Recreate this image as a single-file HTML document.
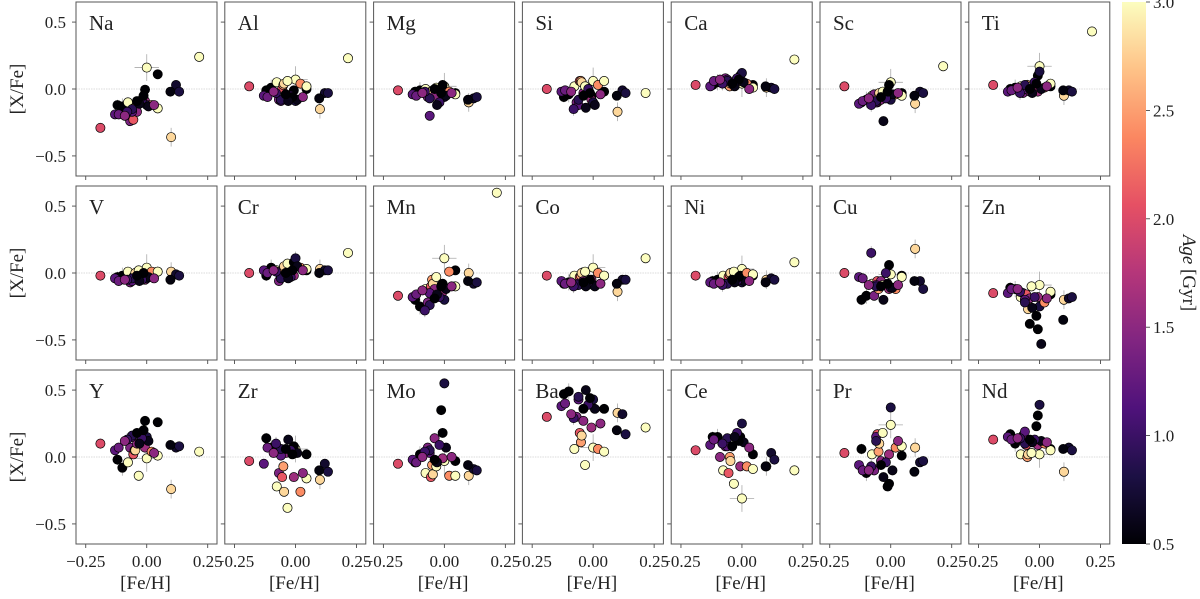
<!DOCTYPE html>
<html><head><meta charset="utf-8"><style>
body{margin:0;background:#fff;}
svg{display:block;font-family:"Liberation Serif",serif;}
</style></head><body>
<svg id="chart" width="1200" height="599" viewBox="0 0 1200 599" xmlns="http://www.w3.org/2000/svg">
<defs><linearGradient id="magma" x1="0" y1="1" x2="0" y2="0">
<stop offset="0" stop-color="#000004"/><stop offset="0.125" stop-color="#1c1044"/><stop offset="0.25" stop-color="#4f127b"/><stop offset="0.375" stop-color="#812581"/><stop offset="0.5" stop-color="#b5367a"/><stop offset="0.625" stop-color="#e55064"/><stop offset="0.75" stop-color="#fb8761"/><stop offset="0.875" stop-color="#fec287"/><stop offset="1" stop-color="#fcfdbf"/></linearGradient></defs>
</svg>
<script>
const elements=["Na","Al","Mg","Si","Ca","Sc","Ti","V","Cr","Mn","Co","Ni","Cu","Zn","Y","Zr","Mo","Ba","Ce","Pr","Nd"];
const feh=[-0.19,0.215,0.0,0.045,0.10,0.12,0.097,0.133,-0.12,-0.10,-0.13,-0.115,-0.077,-0.068,-0.055,-0.05,-0.047,-0.04,-0.06,-0.033,-0.007,-0.007,0.0,0.02,0.045,0.007,-0.02,-0.06,-0.08,-0.013,-0.03,-0.04,0.03,-0.09];
const age=[2.0,3.0,3.0,0.5,2.8,0.7,0.55,0.8,0.5,0.5,1.2,1.3,3.0,1.4,2.1,2.5,2.8,1.5,1.2,3.0,0.5,1.6,0.8,2.4,3.0,0.6,1.0,0.9,1.0,0.5,0.6,0.5,1.5,1.5];
const xerr=[0.012,0.015,0.05,0.012,0.02,0.012,0.012,0.012,0.02,0.015,0.015,0.015,0.015,0.012,0.015,0.02,0.015,0.012,0.015,0.012,0.012,0.012,0.012,0.015,0.015,0.012,0.012,0.012,0.015,0.012,0.012,0.012,0.012,0.015];
const yerr=[0.03,0.02,0.1,0.02,0.07,0.02,0.03,0.02,0.04,0.06,0.03,0.03,0.03,0.03,0.03,0.04,0.03,0.02,0.03,0.02,0.02,0.03,0.02,0.03,0.02,0.02,0.03,0.03,0.05,0.02,0.03,0.02,0.03,0.03];
const vNa=[-0.29,0.24,0.16,0.11,-0.36,0.03,-0.02,-0.02,-0.12,-0.13,-0.19,-0.19,-0.10,-0.24,-0.23,-0.14,-0.15,-0.17,-0.17,-0.10,-0.005,-0.09,-0.12,-0.12,-0.145,-0.13,-0.08,-0.15,-0.17,-0.05,-0.11,-0.09,-0.12,-0.2];
const vAl=[0.02,0.23,0.07,0.0,-0.15,-0.03,-0.07,-0.03,-0.01,0.01,-0.05,-0.06,0.05,-0.08,0.0,0.03,0.04,-0.04,-0.09,0.06,-0.01,-0.07,-0.09,0.04,0.02,-0.08,-0.05,-0.08,-0.03,-0.06,-0.09,-0.04,-0.06,-0.02];
const vMg=[-0.01,null,0.02,-0.03,-0.1,-0.07,-0.08,-0.06,-0.02,-0.01,-0.04,-0.05,0.0,-0.06,-0.02,-0.03,-0.01,-0.05,-0.2,0.01,0.03,-0.04,-0.06,-0.02,-0.04,-0.05,-0.1,-0.07,-0.02,-0.03,-0.12,0.0,-0.03,-0.03];
const vSi=[0.0,-0.03,0.06,-0.02,-0.17,-0.01,-0.05,-0.03,-0.06,-0.04,-0.02,-0.01,0.02,-0.1,0.06,0.06,0.05,-0.03,-0.12,0.02,-0.05,-0.08,-0.1,0.03,0.06,-0.12,0.0,-0.08,-0.15,-0.03,-0.14,-0.05,-0.04,-0.02];
const vCa=[0.03,0.22,0.04,0.03,0.01,0.01,0.02,0.0,0.03,0.05,0.02,0.06,0.05,0.08,0.03,0.02,0.04,0.05,0.07,0.03,0.1,0.06,0.12,0.04,0.01,0.05,0.08,0.06,0.04,0.07,0.02,0.04,0.0,0.07];
const vSc=[0.02,0.17,0.05,-0.03,-0.11,-0.02,-0.05,-0.03,-0.1,-0.08,-0.11,-0.09,-0.05,-0.04,-0.1,-0.06,-0.03,-0.08,-0.1,-0.02,0.03,-0.06,-0.08,-0.04,-0.05,-0.04,-0.07,-0.09,-0.12,-0.02,-0.24,-0.06,-0.03,-0.07];
const vTi=[0.03,0.43,0.17,0.02,-0.05,-0.01,-0.01,-0.02,0.0,0.01,-0.02,-0.01,0.02,-0.03,0.0,0.03,0.01,-0.02,0.0,0.02,0.1,-0.02,0.13,0.01,0.04,0.0,0.05,0.03,-0.03,0.04,-0.03,0.0,0.02,0.01];
const vV=[-0.02,null,0.04,0.01,0.01,-0.01,-0.05,-0.02,-0.03,-0.02,-0.04,-0.06,0.01,-0.07,-0.03,-0.02,0.0,-0.05,-0.06,0.02,-0.02,-0.05,-0.04,0.01,0.01,-0.03,-0.05,-0.04,-0.05,0.0,-0.06,-0.02,-0.04,-0.05];
const vCr=[0.0,0.15,0.06,0.02,0.03,0.02,0.0,0.02,-0.02,0.04,0.02,0.0,0.02,-0.06,0.02,0.03,0.05,0.0,-0.03,0.07,0.08,-0.02,0.11,0.04,0.03,0.05,-0.03,-0.04,0.01,0.02,-0.04,0.0,0.02,0.02];
const vMn=[-0.17,0.6,0.11,0.02,0.0,-0.08,-0.06,-0.07,-0.2,-0.25,-0.18,-0.16,-0.12,-0.22,-0.1,-0.05,-0.08,-0.12,-0.15,-0.03,-0.08,-0.14,-0.2,0.01,-0.1,-0.12,-0.18,-0.24,-0.28,-0.1,-0.16,-0.19,-0.1,-0.13];
const vCo=[-0.02,0.11,0.04,-0.02,-0.14,-0.05,-0.08,-0.05,-0.08,-0.07,-0.06,-0.08,-0.02,-0.09,-0.03,-0.02,0.0,-0.06,-0.08,0.01,-0.07,-0.05,-0.09,0.0,-0.02,-0.1,-0.07,-0.09,-0.1,-0.05,-0.1,-0.07,-0.08,-0.07];
const vNi=[-0.02,0.08,0.03,-0.02,-0.05,-0.04,-0.07,-0.05,-0.06,-0.05,-0.07,-0.08,-0.02,-0.08,-0.03,-0.01,0.0,-0.05,-0.08,0.01,-0.02,-0.05,-0.07,0.0,-0.01,-0.06,-0.06,-0.08,-0.09,-0.03,-0.07,-0.05,-0.06,-0.07];
const vCu=[0.0,null,-0.01,-0.02,0.18,-0.06,-0.06,-0.12,-0.2,-0.17,-0.03,-0.04,-0.08,-0.17,-0.06,-0.12,-0.09,-0.06,-0.09,-0.09,0.06,-0.12,-0.11,-0.12,-0.03,-0.11,0.0,-0.1,0.15,-0.08,-0.2,-0.1,-0.09,-0.09];
const vZn=[-0.15,null,-0.09,-0.16,-0.2,-0.19,-0.35,-0.18,-0.11,-0.12,-0.15,-0.12,-0.18,-0.15,-0.16,-0.23,-0.27,-0.19,-0.2,-0.1,-0.42,-0.18,-0.25,-0.22,-0.14,-0.53,-0.18,-0.22,-0.14,-0.32,-0.26,-0.38,-0.19,-0.12];
const vY=[0.1,0.04,-0.01,0.26,-0.24,0.07,0.09,0.08,-0.02,-0.08,0.05,0.07,-0.04,0.07,0.02,0.05,0.05,0.1,0.15,-0.14,0.27,0.07,0.15,0.04,0.01,0.12,0.14,0.16,0.13,0.2,0.1,0.18,0.03,0.12];
const vZr=[-0.03,null,0.06,0.02,-0.17,-0.05,-0.1,-0.11,0.14,0.07,-0.05,0.07,-0.22,-0.12,-0.15,-0.07,-0.26,0.03,0.01,-0.38,0.08,-0.15,0.03,-0.26,-0.16,0.03,0.05,0.06,0.1,0.02,0.13,0.06,-0.12,0.03];
const vMo=[-0.05,null,-0.03,-0.03,-0.14,-0.09,-0.06,-0.1,-0.04,0.02,-0.02,-0.04,-0.12,0.07,-0.15,-0.06,-0.13,0.14,0.03,-0.07,0.18,-0.01,0.55,-0.14,-0.14,0.07,0.09,0.05,0.04,0.35,-0.04,-0.02,0.0,0.0];
const vBa=[0.3,0.22,0.07,0.36,0.33,0.32,0.2,0.17,0.47,0.49,0.38,0.4,0.06,0.3,0.18,0.11,0.16,0.27,0.43,-0.06,0.42,0.22,0.43,0.06,0.04,0.36,0.39,0.45,0.29,0.44,0.5,0.36,0.25,0.32];
const vCe=[0.05,-0.1,-0.31,0.02,-0.07,0.03,-0.07,-0.02,0.15,0.15,0.09,0.13,-0.1,0.08,-0.12,0.0,-0.03,0.08,0.08,-0.2,0.15,-0.07,0.25,-0.07,-0.09,0.11,0.18,0.14,0.1,0.12,0.15,0.08,0.07,0.0];
const vPr=[0.03,null,0.24,0.01,0.07,-0.04,-0.11,-0.03,0.06,-0.12,-0.06,-0.1,0.02,-0.1,0.17,0.04,0.1,-0.03,0.15,0.18,-0.2,0.02,0.37,0.07,0.08,-0.1,-0.04,0.12,-0.07,-0.22,-0.15,-0.06,0.12,-0.1];
const vNd=[0.13,null,0.02,0.06,-0.11,0.07,0.06,0.05,0.17,0.1,0.15,0.13,0.02,0.16,0.09,0.0,0.02,0.12,0.19,0.03,0.31,0.09,0.39,0.1,0.05,0.12,0.13,0.1,0.14,0.23,0.11,0.13,0.11,0.14];
const values=[vNa,vAl,vMg,vSi,vCa,vSc,vTi,vV,vCr,vMn,vCo,vNi,vCu,vZn,vY,vZr,vMo,vBa,vCe,vPr,vNd];
const xTicks=[-0.25,0,0.25];
const xTickLabels=["−0.25","0.00","0.25"];
const yTicks=[0.5,0,-0.5];
const yTickLabels=["0.5","0.0","−0.5"];
const cbTicks=[0.5,1.0,1.5,2.0,2.5,3.0];
const cbTickLabels=["0.5","1.0","1.5","2.0","2.5","3.0"];

const NS="http://www.w3.org/2000/svg";
const svg=document.getElementById('chart');
function mk(tag,attrs,parent){const e=document.createElementNS(NS,tag);for(const k in attrs)e.setAttribute(k,attrs[k]);(parent||svg).appendChild(e);return e;}
const stops=[[0,[0,0,4]],[0.125,[28,16,68]],[0.25,[79,18,123]],[0.375,[129,37,129]],[0.5,[181,54,122]],[0.625,[229,80,100]],[0.75,[251,135,97]],[0.875,[254,194,135]],[1,[252,253,191]]];
function magma(t){t=Math.max(0,Math.min(1,t));for(let i=1;i<stops.length;i++){if(t<=stops[i][0]){const a=stops[i-1],b=stops[i];const f=(t-a[0])/(b[0]-a[0]);const c=a[1].map((v,j)=>Math.round(v+(b[1][j]-v)*f));return `rgb(${c[0]},${c[1]},${c[2]})`;}}return 'rgb(252,253,191)';}
const PW=141,PH=174,X0=76,DX=148.8,rowTops=[2,186,370];
const XMIN=-0.29,XMAX=0.288,YMIN=-0.65,YMAX=0.65;
elements.forEach((el,k)=>{
  const r=Math.floor(k/7),c=k%7;
  const L=X0+c*DX,T=rowTops[r];
  const sx=v=>L+(v-XMIN)/(XMAX-XMIN)*PW;
  const sy=v=>T+(YMAX-v)/(YMAX-YMIN)*PH;
  const g=mk('g',{});
  
  
  mk('rect',{x:L,y:T,width:PW,height:PH,fill:'#fff'},g);
  const zl=mk('line',{x1:L,x2:L+PW,y1:sy(0),y2:sy(0),stroke:'#d0d0d0','stroke-width':0.8,'stroke-dasharray':'1.5,1'},g);
  
  
  xTicks.forEach((t,i)=>{
    mk('line',{x1:sx(t),x2:sx(t),y1:T+PH,y2:T+PH+4,stroke:'#333','stroke-width':0.8},g);
    if(r===2){const tx=mk('text',{x:sx(t),y:T+PH+23,'text-anchor':'middle','font-size':17,fill:'#222'},g);tx.textContent=xTickLabels[i];
      
      }
  });
  yTicks.forEach((t,i)=>{
    mk('line',{x1:L-4,x2:L,y1:sy(t),y2:sy(t),stroke:'#333','stroke-width':0.8},g);
    if(c===0){const tx=mk('text',{x:L-10,y:sy(t)+6,'text-anchor':'end','font-size':17,fill:'#222'},g);tx.textContent=yTickLabels[i];
      
      }
  });
  const vals=values[k];
  feh.forEach((f,i)=>{const v=vals[i];if(v===null)return;
    mk('line',{x1:sx(f-xerr[i]),x2:sx(f+xerr[i]),y1:sy(v),y2:sy(v),stroke:'#aaa','stroke-width':0.8},g);
    mk('line',{x1:sx(f),x2:sx(f),y1:sy(v-yerr[i]),y2:sy(v+yerr[i]),stroke:'#aaa','stroke-width':0.8},g);
  });
  feh.forEach((f,i)=>{const v=vals[i];if(v===null)return;
    const p=mk('circle',{cx:sx(f),cy:sy(v),r:4.6,fill:magma((age[i]-0.5)/2.5),stroke:'#000','stroke-width':0.7},g);
    
    
  });
  mk('rect',{x:L,y:T,width:PW,height:PH,fill:'none',stroke:'#555','stroke-width':1},g);
  const lab=mk('text',{x:L+13,y:T+28,'font-size':21,fill:'#222'},g);lab.textContent=el;
  
  
  if(r===2){const xl=mk('text',{x:L+PW/2-1,y:589,'text-anchor':'middle','font-size':19,fill:'#222'},g);xl.textContent='[Fe/H]';
    
    }
  if(c===0){const yl=mk('text',{x:0,y:0,'text-anchor':'middle','font-size':19,fill:'#222',transform:`translate(23,${T+PH/2}) rotate(-90)`},g);yl.textContent='[X/Fe]';
    
    }
});
// colorbar
const CBX=1122,CBW=24,CBT=2,CBB=544;
const cb=mk('g',{});


mk('rect',{x:CBX,y:CBT,width:CBW,height:CBB-CBT,fill:'url(#magma)'},cb);
const cy=v=>CBB-(v-0.5)/2.5*(CBB-CBT);
cbTicks.forEach((t,i)=>{
  mk('line',{x1:CBX+CBW,x2:CBX+CBW+4,y1:cy(t),y2:cy(t),stroke:'#333','stroke-width':0.8},cb);
  const tx=mk('text',{x:CBX+CBW+7,y:cy(t)+6,'font-size':17,fill:'#222'},cb);tx.textContent=cbTickLabels[i];
  
  
});
const cl=mk('text',{x:0,y:0,'text-anchor':'middle','font-size':19,fill:'#222',transform:`translate(1183,273) rotate(90)`},cb);
cl.innerHTML='<tspan font-style="italic">Age</tspan> [Gyr]';


</script>
</body></html>
